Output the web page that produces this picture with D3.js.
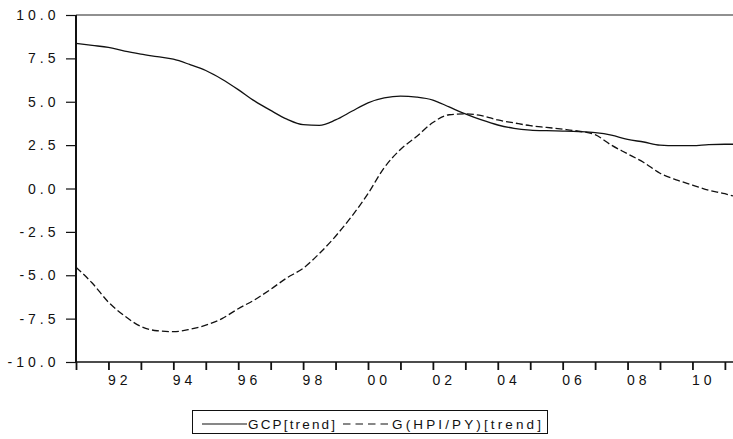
<!DOCTYPE html>
<html>
<head>
<meta charset="utf-8">
<script src="https://cdn.jsdelivr.net/npm/d3@7"></script>
<style>
  html, body { margin: 0; padding: 0; background: #fff; }
  svg { display: block; }
  text { font-family: "Liberation Sans", Arial, sans-serif; fill: #111; }
</style>
</head>
<body>
<svg id="chart" width="733" height="439"></svg>
<script>
// ---- data (half-yearly observations) ----
const dates = [1991.0,1991.5,1992.0,1992.5,1993.0,1993.5,1994.0,1994.5,1995.0,1995.5,
  1996.0,1996.5,1997.0,1997.5,1998.0,1998.5,1999.0,1999.5,2000.0,2000.5,
  2001.0,2001.5,2002.0,2002.5,2003.0,2003.5,2004.0,2004.5,2005.0,2005.5,
  2006.0,2006.5,2007.0,2007.5,2008.0,2008.5,2009.0,2009.5,2010.0,2010.5,
  2011.0,2011.25];
const gcpTrend = [8.37,8.25,8.13,7.92,7.75,7.6,7.45,7.15,6.8,6.3,
  5.7,5.05,4.5,4.0,3.68,3.64,3.95,4.45,4.94,5.22,
  5.33,5.27,5.1,4.7,4.3,3.95,3.66,3.47,3.37,3.33,
  3.31,3.28,3.22,3.08,2.83,2.68,2.5,2.47,2.47,2.53,
  2.55,2.55];
const hpiTrend = [-4.54,-5.45,-6.55,-7.35,-7.95,-8.2,-8.25,-8.12,-7.88,-7.5,
  -6.93,-6.42,-5.81,-5.15,-4.6,-3.75,-2.75,-1.6,-0.3,1.2,
  2.25,3.0,3.8,4.25,4.3,4.2,3.95,3.78,3.62,3.52,
  3.42,3.3,3.1,2.5,2.0,1.5,0.88,0.5,0.2,-0.1,
  -0.3,-0.43];
const yTicks = [10, 7.5, 5, 2.5, 0, -2.5, -5, -7.5, -10];
const yTickLabels = ["10.0","7.5","5.0","2.5","0.0","-2.5","-5.0","-7.5","-10.0"];
const xTicks = d3.range(1991, 2012);
const xLabelYears = [1992,1994,1996,1998,2000,2002,2004,2006,2008,2010];
const xLabels = ["92","94","96","98","00","02","04","06","08","10"];
const seriesNames = ["GCP[trend]", "G(HPI/PY)[trend]"];

// ---- layout ----
const svg = d3.select("#chart");
const pLeft = 76, pRight = 733, pTop = 15, pBottom = 362;
const x = d3.scaleLinear().domain([1991, 2011.25]).range([pLeft, pRight]);
const y = d3.scaleLinear().domain([-10, 10]).range([pBottom, pTop]);

// frame top
svg.append("line").attr("x1", pLeft).attr("x2", pRight).attr("y1", pTop).attr("y2", pTop)
  .attr("stroke", "#222").attr("stroke-width", 1.2);

// y axis
const yAxis = d3.axisLeft(y).tickValues(yTicks).tickSize(10).tickFormat("");
const yg = svg.append("g").attr("transform", `translate(${pLeft},0)`).call(yAxis);
yg.select(".domain").remove();
yg.selectAll(".tick line").attr("stroke", "#111").attr("stroke-width", 1.2);
svg.selectAll(".ylab").data(yTicks).enter().append("text")
  .attr("class", "ylab")
  .attr("x", 59.5).attr("y", d => y(d) + 5)
  .attr("text-anchor", "end")
  .style("font-size", "14px").style("letter-spacing", "4px")
  .text((d, i) => yTickLabels[i]);

// x axis
const xAxis = d3.axisBottom(x).tickValues(xTicks).tickSize(8).tickFormat("");
const xg = svg.append("g").attr("transform", `translate(0,${pBottom})`).call(xAxis);
xg.select(".domain").remove();
xg.selectAll(".tick line").attr("stroke", "#111").attr("stroke-width", 1.8);
svg.selectAll(".xlab").data(xLabelYears).enter().append("text")
  .attr("class", "xlab")
  .attr("x", d => x(d) - 0.5).attr("y", 385)
  .attr("text-anchor", "start")
  .style("font-size", "14px").style("letter-spacing", "4px")
  .text((d, i) => xLabels[i]);

// axis lines
svg.append("line").attr("x1", pLeft).attr("x2", pLeft).attr("y1", pTop).attr("y2", pBottom)
  .attr("stroke", "#111").attr("stroke-width", 2);
svg.append("line").attr("x1", pLeft).attr("x2", pRight).attr("y1", pBottom).attr("y2", pBottom)
  .attr("stroke", "#111").attr("stroke-width", 1.6);

// series
const line = d3.line().x((d, i) => x(dates[i])).y(d => y(d)).curve(d3.curveMonotoneX);
svg.append("path").datum(gcpTrend).attr("d", line)
  .attr("fill", "none").attr("stroke", "#111").attr("stroke-width", 1.3);
svg.append("path").datum(hpiTrend).attr("d", line)
  .attr("fill", "none").attr("stroke", "#111").attr("stroke-width", 1.3)
  .attr("stroke-dasharray", "7,3");

// legend
const lg = svg.append("g");
lg.append("rect").attr("x", 192.5).attr("y", 410.5).attr("width", 355).attr("height", 23)
  .attr("fill", "#fff").attr("stroke", "#111").attr("stroke-width", 1);
lg.append("line").attr("x1", 202).attr("x2", 247).attr("y1", 424).attr("y2", 424)
  .attr("stroke", "#111").attr("stroke-width", 1.2);
lg.append("text").attr("x", 248).attr("y", 428.5)
  .attr("textLength", 87).attr("lengthAdjust", "spacing")
  .style("font-size", "13.5px").text(seriesNames[0]);
lg.append("line").attr("x1", 343).attr("x2", 389).attr("y1", 424).attr("y2", 424)
  .attr("stroke", "#111").attr("stroke-width", 1.2).attr("stroke-dasharray", "7.5,5");
lg.append("text").attr("x", 392).attr("y", 428.5)
  .attr("textLength", 149).attr("lengthAdjust", "spacing")
  .style("font-size", "13.5px").text(seriesNames[1]);
</script>
</body>
</html>
